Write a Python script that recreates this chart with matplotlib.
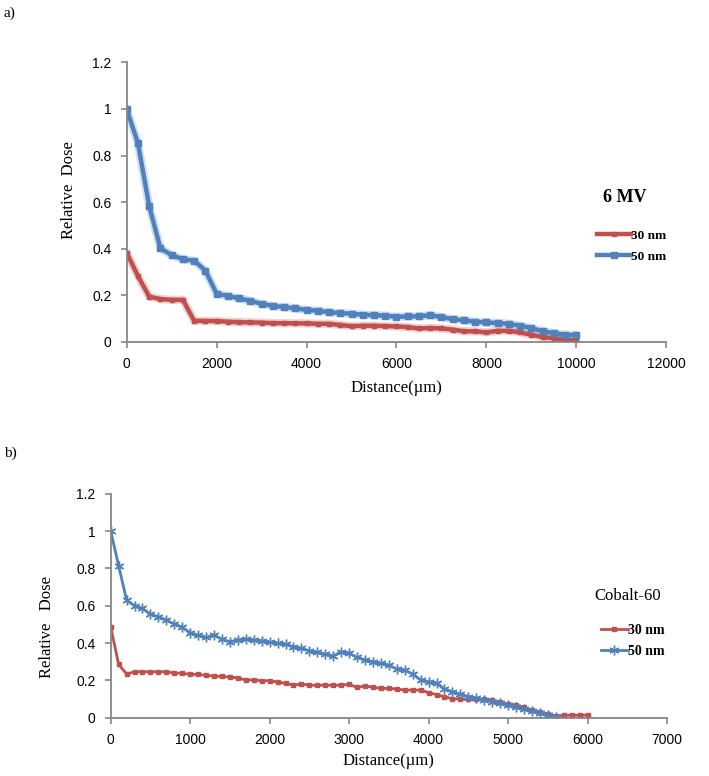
import matplotlib
matplotlib.use("Agg")
import matplotlib.pyplot as plt
import numpy as np

# panel a: 6 MV, sampled every 250 um
dist_a = np.arange(0, 10001, 250)
dose_a_30 = [0.383, 0.283, 0.195, 0.184, 0.181, 0.181, 0.091, 0.090, 0.090, 0.087,
             0.085, 0.084, 0.083, 0.081, 0.081, 0.080, 0.080, 0.078, 0.078, 0.073,
             0.068, 0.070, 0.070, 0.068, 0.067, 0.064, 0.058, 0.060, 0.058, 0.053,
             0.046, 0.046, 0.041, 0.048, 0.048, 0.041, 0.031, 0.021, 0.016, 0.011,
             0.007]
dose_a_50 = [1.000, 0.853, 0.584, 0.402, 0.373, 0.355, 0.349, 0.306, 0.207, 0.198,
             0.187, 0.177, 0.164, 0.155, 0.150, 0.144, 0.138, 0.134, 0.128, 0.124,
             0.121, 0.117, 0.115, 0.113, 0.108, 0.110, 0.110, 0.115, 0.107, 0.098,
             0.093, 0.087, 0.084, 0.081, 0.078, 0.070, 0.060, 0.046, 0.038, 0.031,
             0.030]

# panel b: Cobalt-60, sampled every 100 um
dist_b_30 = np.arange(0, 6001, 100)
dose_b_30 = [0.488, 0.286, 0.234, 0.246, 0.246, 0.246, 0.246, 0.246, 0.239, 0.238,
             0.232, 0.232, 0.227, 0.223, 0.221, 0.218, 0.213, 0.202, 0.202, 0.198,
             0.198, 0.191, 0.184, 0.175, 0.180, 0.175, 0.173, 0.175, 0.173, 0.175,
             0.178, 0.163, 0.170, 0.163, 0.157, 0.157, 0.154, 0.148, 0.148, 0.148,
             0.134, 0.124, 0.112, 0.102, 0.100, 0.098, 0.098, 0.098, 0.095, 0.082,
             0.071, 0.068, 0.055, 0.041, 0.029, 0.020, 0.009, 0.013, 0.013, 0.013,
             0.014]
dist_b_50 = np.arange(0, 5601, 100)
dose_b_50 = [1.000, 0.815, 0.630, 0.600, 0.586, 0.554, 0.541, 0.523, 0.502, 0.484,
             0.455, 0.441, 0.430, 0.443, 0.420, 0.407, 0.416, 0.420, 0.416, 0.413,
             0.404, 0.398, 0.393, 0.380, 0.371, 0.359, 0.350, 0.341, 0.330, 0.354,
             0.345, 0.323, 0.309, 0.300, 0.291, 0.280, 0.262, 0.254, 0.234, 0.202,
             0.193, 0.184, 0.154, 0.139, 0.127, 0.113, 0.104, 0.096, 0.086, 0.077,
             0.068, 0.055, 0.045, 0.034, 0.023, 0.014, 0.004]

labels = ["30 nm", "50 nm"]
red = "#C0504D"
blue = "#4F81BD"
axis_gray = "#868686"

serif = ["Liberation Serif", "DejaVu Serif"]
narrow = ["Liberation Sans Narrow", "Liberation Sans", "DejaVu Sans"]

fig = plt.figure(figsize=(7.09, 7.76), dpi=100)


def style_axes(ax, xmax, xstep):
    ax.set_xlim(0, xmax)
    ax.set_ylim(0, 1.2)
    ax.set_xticks(np.arange(0, xmax + 1, xstep))
    ax.set_yticks(np.arange(0, 1.21, 0.2))
    ax.set_yticklabels(["0", "0.2", "0.4", "0.6", "0.8", "1", "1.2"])
    for s in ["top", "right"]:
        ax.spines[s].set_visible(False)
    for s in ["left", "bottom"]:
        ax.spines[s].set_color(axis_gray)
        ax.spines[s].set_linewidth(1.3)
    ax.tick_params(direction="out", length=4, width=1.2, color=axis_gray,
                   labelsize=10, pad=7)
    for lab in ax.get_xticklabels() + ax.get_yticklabels():
        lab.set_family(narrow)


# ---- panel a
ax1 = fig.add_axes([0.1787, 0.5593, 0.761, 0.3603])
# soft halo under the lines, like the Excel shadow
ax1.plot(dist_a, dose_a_30, color=red, lw=6, alpha=0.25, solid_capstyle="round")
ax1.plot(dist_a, dose_a_50, color=blue, lw=6, alpha=0.25, solid_capstyle="round")
ax1.plot(dist_a, dose_a_30, color=red, lw=3.2, marker="s", ms=3.5, label=labels[0])
ax1.plot(dist_a, dose_a_50, color=blue, lw=3.2, marker="s", ms=5, label=labels[1])
style_axes(ax1, 12000, 2000)
ax1.set_xlabel("Distance(\u00b5m)", family=serif, fontsize=12, labelpad=6)
ax1.set_ylabel("Relative  Dose", family=serif, fontsize=12)
ax1.yaxis.set_label_coords(-0.092, 0.544)
fig.text(0.005, 0.983, "a)", family=serif, fontsize=11, va="center")
fig.text(625 / 709, 1 - 197 / 776, "6 MV", family=serif, fontsize=13,
         fontweight="bold", ha="center", va="center")
h1, l1 = ax1.get_legend_handles_labels()
fig.legend(h1, l1, loc="center left",
           bbox_to_anchor=(585 / 709, 1 - 246 / 776), frameon=False,
           prop={"family": serif, "size": 9.5, "weight": "bold"},
           handlelength=2.6, handletextpad=0.0, labelspacing=0.65, numpoints=1)

# ---- panel b
ax2 = fig.add_axes([0.1561, 0.0751, 0.7847, 0.2887])
ax2.plot(dist_b_30, dose_b_30, color=red, lw=2, marker="s", ms=3.5, label=labels[0])
ax2.plot(dist_b_50, dose_b_50, color=blue, lw=2, marker=(6, 2, 0), ms=7,
         mew=1, label=labels[1])
style_axes(ax2, 7000, 1000)
ax2.set_xlabel("Distance(\u00b5m)", family=serif, fontsize=12, labelpad=4)
ax2.set_ylabel("Relative   Dose", family=serif, fontsize=12)
ax2.yaxis.set_label_coords(-0.1, 0.406)
fig.text(0.005, 1 - 453 / 776, "b)", family=serif, fontsize=11, va="center")
fig.text(628 / 709, 1 - 596 / 776, "Cobalt-60", family=serif, fontsize=12,
         ha="center", va="center")
fig.legend(*ax2.get_legend_handles_labels(), loc="center left",
           bbox_to_anchor=(588 / 709, 1 - 641 / 776), frameon=False,
           prop={"family": serif, "size": 10, "weight": "bold"},
           handlelength=2.0, handletextpad=0.0, labelspacing=0.6, numpoints=1)

fig.savefig("out.png", dpi=100)
